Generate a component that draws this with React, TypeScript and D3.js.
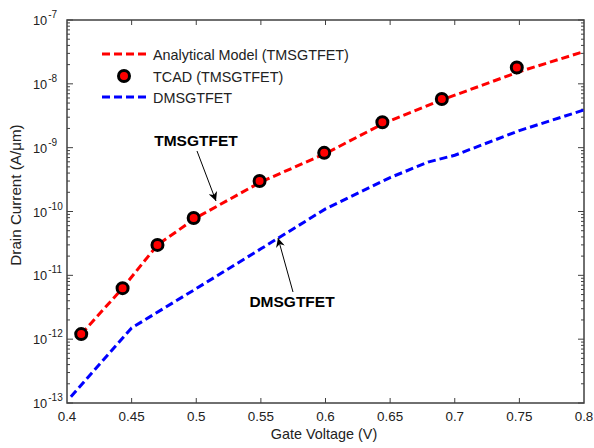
import React, { useEffect, useRef } from 'react';
import * as d3 from 'd3';

// Analytical model (TMSGTFET), red dashed
const modelV = [0.411, 0.443, 0.47, 0.5, 0.55, 0.6, 0.645, 0.69, 0.75, 0.8];
const modelI = [1.2e-12, 6.3e-12, 3.0e-11, 8.0e-11, 2.9e-10, 8.1e-10, 2.4e-9, 5.6e-9, 1.55e-8, 3.2e-8];

// TCAD (TMSGTFET) markers
const tcadV = [0.411, 0.443, 0.47, 0.498, 0.549, 0.599, 0.644, 0.69, 0.748];
const tcadI = [1.2e-12, 6.3e-12, 3.0e-11, 7.9e-11, 3.0e-10, 8.3e-10, 2.5e-9, 5.8e-9, 1.8e-8];

// DMSGTFET, blue dashed
const dmV = [0.403, 0.45, 0.5, 0.55, 0.6, 0.65, 0.68, 0.7, 0.75, 0.8];
const dmI = [1.25e-13, 1.5e-12, 6.2e-12, 2.6e-11, 1.1e-10, 3.4e-10, 6.0e-10, 7.6e-10, 1.85e-9, 3.9e-9];

const xTicks = [0.4, 0.45, 0.5, 0.55, 0.6, 0.65, 0.7, 0.75, 0.8];
const yExps = [-13, -12, -11, -10, -9, -8, -7];

const legendLabels = ['Analytical Model (TMSGTFET)', 'TCAD (TMSGTFET)', 'DMSGTFET'];

const W = 594, H = 448;
const left = 67, right = 584, top = 20, bottom = 403;
const font = 'Arial, "Liberation Sans", sans-serif';

export default function App() {
  const ref = useRef<SVGSVGElement>(null);

  useEffect(() => {
    const svg = d3.select(ref.current);
    svg.selectAll('*').remove();

    const x = d3.scaleLinear().domain([0.4, 0.8]).range([left, right]);
    const y = d3.scaleLog().domain([1e-13, 1e-7]).range([bottom, top]);

    const frame = '#404040';
    const g = svg.append('g');

    // ticks
    xTicks.slice(1, -1).forEach(t => {
      g.append('line').attr('x1', x(t)).attr('x2', x(t)).attr('y1', bottom).attr('y2', bottom - 5).attr('stroke', frame);
      g.append('line').attr('x1', x(t)).attr('x2', x(t)).attr('y1', top).attr('y2', top + 5).attr('stroke', frame);
    });
    yExps.forEach(e => {
      for (let m = 1; m <= 9; m++) {
        const v = m * Math.pow(10, e);
        if (v > 1e-7 || v < 1e-13) continue;
        const len = m === 1 ? 6 : 3;
        const yy = y(v);
        g.append('line').attr('x1', left).attr('x2', left + len).attr('y1', yy).attr('y2', yy).attr('stroke', frame);
        g.append('line').attr('x1', right).attr('x2', right - len).attr('y1', yy).attr('y2', yy).attr('stroke', frame);
      }
    });

    g.append('rect').attr('x', left).attr('y', top).attr('width', right - left).attr('height', bottom - top)
      .attr('fill', 'none').attr('stroke', frame).attr('stroke-width', 1.5);

    // tick labels
    xTicks.forEach(t => {
      g.append('text').attr('x', x(t)).attr('y', bottom + 18).attr('text-anchor', 'middle')
        .attr('font-family', font).attr('font-size', 13.4).attr('fill', '#222').text(String(t));
    });
    yExps.forEach(e => {
      const t = g.append('text').attr('x', 33).attr('y', y(Math.pow(10, e)) + 5)
        .attr('font-family', font).attr('font-size', 12.8).attr('fill', '#222');
      t.append('tspan').text('10');
      t.append('tspan').attr('dx', 1).attr('dy', -7).attr('font-size', 10).text(String(e));
    });

    // axis titles
    g.append('text').attr('x', 324).attr('y', 439).attr('text-anchor', 'middle')
      .attr('font-family', font).attr('font-size', 14.4).attr('fill', '#222').text('Gate Voltage (V)');
    g.append('text').attr('transform', 'translate(21,195) rotate(-90)').attr('text-anchor', 'middle')
      .attr('font-family', font).attr('font-size', 15.2).attr('fill', '#222').text('Drain Current (A/\u03bcm)');

    const line = d3.line<[number, number]>().x(d => x(d[0])).y(d => y(d[1]));

    g.append('path').attr('d', line(dmV.map((v, i) => [v, dmI[i]]))!)
      .attr('fill', 'none').attr('stroke', '#0000ff').attr('stroke-width', 3).attr('stroke-dasharray', '8,4');
    g.append('path').attr('d', line(modelV.map((v, i) => [v, modelI[i]]))!)
      .attr('fill', 'none').attr('stroke', '#ff0000').attr('stroke-width', 3).attr('stroke-dasharray', '8,4');

    g.selectAll('circle.tcad').data(tcadV.map((v, i) => [v, tcadI[i]])).enter().append('circle')
      .attr('cx', d => x(d[0])).attr('cy', d => y(d[1])).attr('r', 5.5)
      .attr('fill', '#ff0000').attr('stroke', '#000').attr('stroke-width', 3);

    // legend
    const lg = svg.append('g');
    lg.append('line').attr('x1', 102).attr('x2', 147).attr('y1', 54).attr('y2', 54)
      .attr('stroke', '#ff0000').attr('stroke-width', 3).attr('stroke-dasharray', '8,4');
    lg.append('circle').attr('cx', 124).attr('cy', 76).attr('r', 5.5)
      .attr('fill', '#ff0000').attr('stroke', '#000').attr('stroke-width', 3);
    lg.append('line').attr('x1', 102).attr('x2', 147).attr('y1', 97).attr('y2', 97)
      .attr('stroke', '#0000ff').attr('stroke-width', 3).attr('stroke-dasharray', '8,4');
    [54, 76, 97].forEach((yy, i) => {
      lg.append('text').attr('x', 153).attr('y', yy + 6).attr('font-family', font).attr('font-size', 14.4)
        .attr('fill', '#222').text(legendLabels[i]);
    });

    // annotations
    const defs = svg.append('defs');
    defs.append('marker').attr('id', 'ah').attr('viewBox', '0 0 10 10').attr('refX', 10).attr('refY', 5)
      .attr('markerWidth', 9).attr('markerHeight', 9).attr('orient', 'auto-start-reverse')
      .attr('markerUnits', 'userSpaceOnUse')
      .append('path').attr('d', 'M0,0 L10,5 L0,10 L3,5 Z').attr('fill', '#000');

    svg.append('text').attr('x', 196).attr('y', 146).attr('text-anchor', 'middle').attr('font-family', font)
      .attr('font-size', 15.5).attr('font-weight', 'bold').attr('fill', '#000').text('TMSGTFET');
    svg.append('line').attr('x1', 197).attr('y1', 151).attr('x2', 216).attr('y2', 201)
      .attr('stroke', '#000').attr('stroke-width', 1).attr('marker-end', 'url(#ah)');

    svg.append('text').attr('x', 292).attr('y', 307).attr('text-anchor', 'middle').attr('font-family', font)
      .attr('font-size', 15.5).attr('font-weight', 'bold').attr('fill', '#000').text('DMSGTFET');
    svg.append('line').attr('x1', 293).attr('y1', 292).attr('x2', 278).attr('y2', 238)
      .attr('stroke', '#000').attr('stroke-width', 1).attr('marker-end', 'url(#ah)');
  }, []);

  return (
    <svg ref={ref} width={W} height={H} style={{ position: 'absolute', left: 0, top: 0, background: '#fff' }} />
  );
}
